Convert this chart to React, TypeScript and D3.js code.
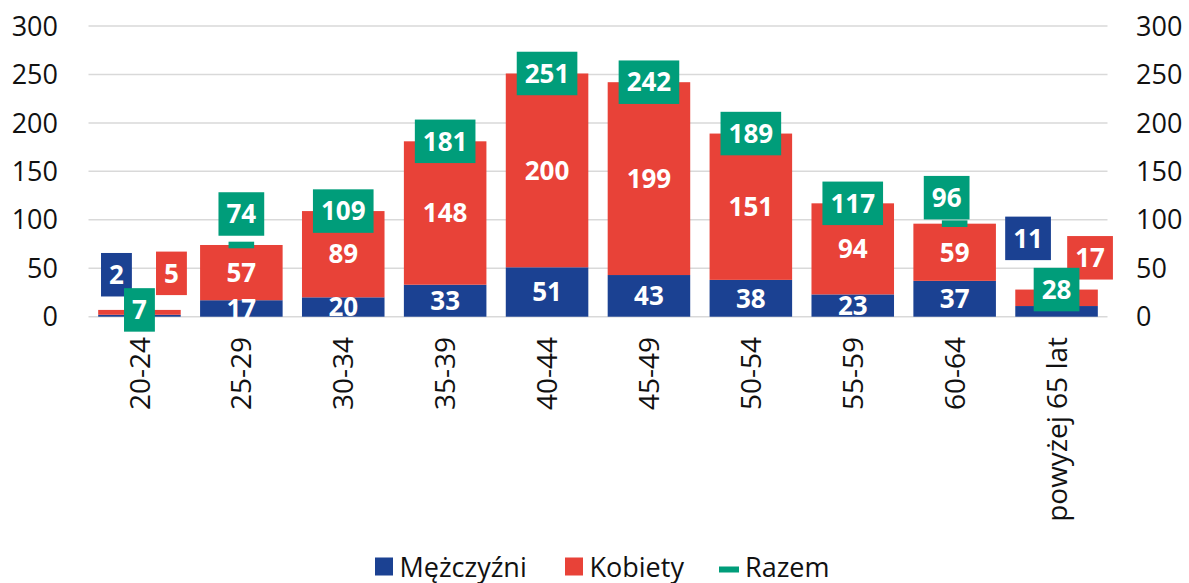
import React from "react";
import * as d3 from "d3";

const categories = ["20-24", "25-29", "30-34", "35-39", "40-44", "45-49", "50-54", "55-59", "60-64", "powyżej 65 lat"];
const men = [2, 17, 20, 33, 51, 43, 38, 23, 37, 11];
const women = [5, 57, 89, 148, 200, 199, 151, 94, 59, 17];
const total = [7, 74, 109, 181, 251, 242, 189, 117, 96, 28];
const yTicks = [0, 50, 100, 150, 200, 250, 300];
const seriesNames = ["Mężczyźni", "Kobiety", "Razem"];

const COLORS = { men: "#1B4192", women: "#E84238", total: "#009D7A" };
const FONT = "'Open Sans', 'Noto Sans', sans-serif";

// manual label nudges (pixels) relative to default anchor
const labelNudges: Record<string, { dx: number; dy: number }> = {
  "men|20-24": { dx: -23, dy: -41 },
  "women|20-24": { dx: 32, dy: -39 },
  "men|powyżej 65 lat": { dx: -28.5, dy: -73 },
  "women|powyżej 65 lat": { dx: 33.5, dy: -40 },
  "total|25-29": { dx: 0, dy: -31 },
  "total|60-64": { dx: -8, dy: -26 },
};
// labels drawn with a filled box (outside bars)
const boxed = new Set(["men|20-24", "women|20-24", "men|powyżej 65 lat", "women|powyżej 65 lat"]);

export default function App() {
  const W = 1189, H = 583;
  const x = d3.scaleBand<string>().domain(categories).range([88.5, 1107.5]).paddingInner(0.19).paddingOuter(0.095);
  const y = d3.scaleLinear().domain([0, 300]).range([316.7, 26]);
  const bw = x.bandwidth();
  const cx = (c: string) => (x(c) as number) + bw / 2;

  const labelFont = 26;
  const digitW = 0.572 * labelFont;

  const labels: any[] = [];
  categories.forEach((c, i) => {
    const items = [
      { key: "men", v: men[i], anchor: men[i] / 2, color: COLORS.men, box: boxed.has("men|" + c) },
      { key: "women", v: women[i], anchor: men[i] + women[i] / 2, color: COLORS.women, box: boxed.has("women|" + c) },
      { key: "total", v: total[i], anchor: total[i], color: COLORS.total, box: true },
    ];
    items.forEach((it) => {
      const n = labelNudges[it.key + "|" + c] || { dx: 0, dy: 0 };
      labels.push({ ...it, c, lx: cx(c) + n.dx, ly: y(it.anchor) + n.dy });
    });
  });

  const legendY = 576.5;

  return (
    <svg width={W} height={H} style={{ position: "absolute", left: 0, top: 0, background: "#fff" }} fontFamily={FONT}>
      <rect x={0} y={0} width={W} height={H} fill="#fff" />
      {yTicks.map((t) => (
        <line key={"g" + t} x1={88.5} x2={1107.5} y1={y(t)} y2={y(t)} stroke="#D9D9D9" strokeWidth={1.5} />
      ))}
      {yTicks.map((t) => (
        <text key={"l" + t} x={58} y={y(t) + 9.6} textAnchor="end" fontSize={27} fill="#111">{t}</text>
      ))}
      {yTicks.map((t) => (
        <text key={"r" + t} x={1136} y={y(t) + 9.6} textAnchor="start" fontSize={27} fill="#111">{t}</text>
      ))}
      {categories.map((c, i) => (
        <g key={"b" + c}>
          <rect x={x(c)} width={bw} y={y(men[i])} height={y(0) - y(men[i])} fill={COLORS.men} />
          <rect x={x(c)} width={bw} y={y(men[i] + women[i])} height={y(men[i]) - y(men[i] + women[i])} fill={COLORS.women} />
        </g>
      ))}
      {categories.map((c, i) => (
        <rect key={"m" + c} x={cx(c) - 12.8} width={25.6} y={y(total[i]) - 3.3} height={6.6} fill={COLORS.total} />
      ))}
      {labels.map((l, i) => {
        const txt = String(l.v);
        const w = txt.length * digitW + 16;
        const h = 43.5;
        return (
          <g key={"lab" + i}>
            {l.box && <rect x={l.lx - w / 2} y={l.ly - h / 2} width={w} height={h} fill={l.color} />}
            <text x={l.lx} y={l.ly + 0.357 * labelFont} textAnchor="middle" fontSize={labelFont} fontWeight={700} fill="#fff">{txt}</text>
          </g>
        );
      })}
      {categories.map((c) => (
        <text key={"x" + c} transform={`translate(${cx(c)},337) rotate(-90)`} dy={0.36 * 28} textAnchor="end" fontSize={28} fill="#111">{c}</text>
      ))}
      <g>
        <rect x={375} y={legendY - 19} width={18} height={18} fill={COLORS.men} />
        <text x={399.5} y={legendY} fontSize={27} fill="#111">{seriesNames[0]}</text>
        <rect x={565} y={legendY - 19} width={18} height={18} fill={COLORS.women} />
        <text x={589.5} y={legendY} fontSize={27} fill="#111">{seriesNames[1]}</text>
        <rect x={719} y={legendY - 10} width={20} height={6} fill={COLORS.total} />
        <text x={745} y={legendY} fontSize={27} fill="#111">{seriesNames[2]}</text>
      </g>
    </svg>
  );
}
